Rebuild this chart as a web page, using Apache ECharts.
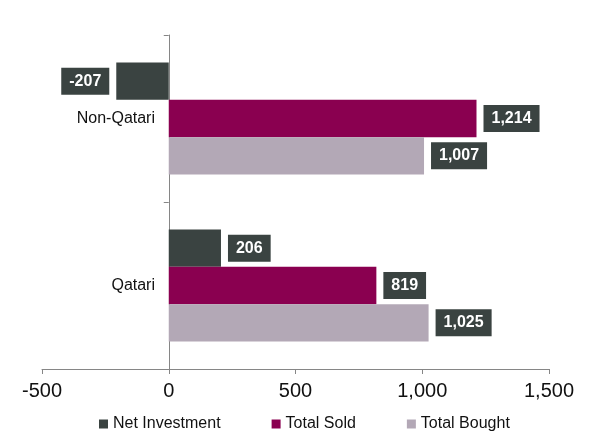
<!DOCTYPE html>
<html>
<head>
<meta charset="utf-8">
<script src="https://cdn.jsdelivr.net/npm/echarts@6/dist/echarts.min.js"></script>
<style>
  html, body { margin: 0; padding: 0; background: #fff; }
  #chart { width: 590px; height: 434px; }
</style>
</head>
<body>
<div id="chart"></div>
<script>
const categories = ['Qatari', 'Non-Qatari']
const netInvestment = [206, -207]
const totalSold = [819, 1214]
const totalBought = [1025, 1007]
const xTicks = [-500, 0, 500, 1000, 1500]

const fmt = (v) => v.toLocaleString('en-US')

// negative values get their label on the left of the bar end
const withLabels = (values) => values.map(v => ({
  value: v,
  label: { position: v < 0 ? 'left' : 'right' }
}))

const labelStyle = {
  show: true,
  distance: 7,
  color: '#fff',
  fontWeight: 'bold',
  fontSize: 16,
  fontFamily: 'Liberation Sans, Arial, sans-serif',
  backgroundColor: '#3a4341',
  padding: [6, 8, 5, 8],
  formatter: (p) => fmt(p.value)
}

const chart = echarts.init(document.getElementById('chart'))
chart.setOption({
  animation: false,
  textStyle: { fontFamily: 'Liberation Sans, Arial, sans-serif' },
  grid: { left: 42, right: 41, top: 35, bottom: 65, containLabel: false, outerBoundsMode: 'none' },
  legend: {
    top: 416,
    left: 99,
    padding: 0,
    icon: 'rect',
    itemWidth: 9,
    itemHeight: 9,
    itemGap: 51,
    textStyle: { fontSize: 16, color: '#111' },
    data: ['Net Investment', 'Total Sold', 'Total Bought']
  },
  xAxis: {
    type: 'value',
    min: xTicks[0],
    max: xTicks[xTicks.length - 1],
    interval: 500,
    splitLine: { show: false },
    axisLine: { show: true, lineStyle: { color: '#868686', width: 1 } },
    axisTick: { show: true, length: 5, lineStyle: { color: '#868686' } },
    axisLabel: { fontSize: 20, color: '#111', margin: 12, formatter: (v) => fmt(v) }
  },
  yAxis: {
    type: 'category',
    data: categories,
    axisLine: { show: true, lineStyle: { color: '#868686', width: 1 } },
    axisTick: { show: true, length: 5, lineStyle: { color: '#868686' } },
    axisLabel: { fontSize: 16, color: '#111', margin: -113 }
  },
  series: [
    {
      name: 'Net Investment',
      type: 'bar',
      data: withLabels(netInvestment),
      itemStyle: { color: '#3a4341' },
      label: labelStyle,
      barGap: '0%',
      barCategoryGap: '33%'
    },
    {
      name: 'Total Sold',
      type: 'bar',
      data: withLabels(totalSold),
      itemStyle: { color: '#8a0050' },
      label: labelStyle
    },
    {
      name: 'Total Bought',
      type: 'bar',
      data: withLabels(totalBought),
      itemStyle: { color: '#b3a8b6' },
      label: labelStyle
    }
  ]
})
</script>
</body>
</html>
